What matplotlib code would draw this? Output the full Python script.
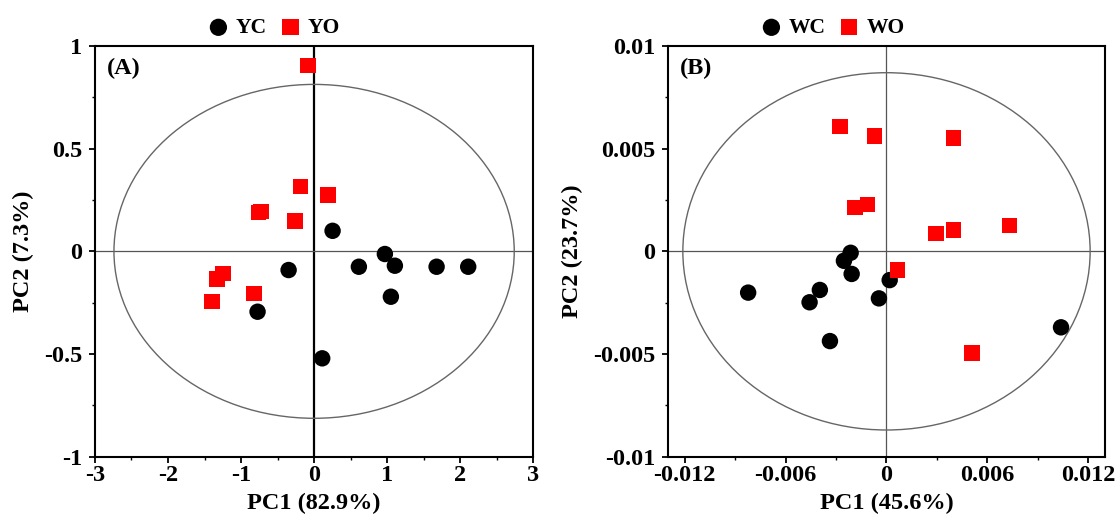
import matplotlib
matplotlib.use("Agg")
import matplotlib.pyplot as plt
from matplotlib.patches import Ellipse
from matplotlib.ticker import MultipleLocator, FuncFormatter

# panel A scores
yc_x = [0.253, 0.969, 1.106, 0.613, 1.677, 2.11, 1.051, -0.349, -0.774, 0.111]
yc_y = [0.100, -0.013, -0.070, -0.075, -0.075, -0.075, -0.221, -0.091, -0.294, -0.521]
yo_x = [-0.081, -0.185, 0.193, -0.76, -0.73, -0.263, -1.244, -1.326, -0.82, -1.395]
yo_y = [0.904, 0.315, 0.274, 0.19, 0.193, 0.149, -0.107, -0.135, -0.205, -0.245]

# panel B scores
wc_x = [-0.00213, -0.00253, -0.00207, 0.00019, -0.00045, -0.00822, -0.00396, -0.00457, -0.00336, 0.01037]
wc_y = [-0.00007, -0.00046, -0.0011, -0.0014, -0.00229, -0.00201, -0.00188, -0.00248, -0.00437, -0.0037]
wo_x = [-0.00277, -0.0007, 0.00398, -0.00188, -0.00114, 0.00293, 0.00398, 0.0073, 0.00065, 0.00507]
wo_y = [0.00607, 0.00561, 0.00553, 0.00214, 0.00227, 0.00088, 0.00104, 0.00125, -0.00091, -0.00494]

plt.rcParams["font.family"] = ["Liberation Serif", "DejaVu Serif"]
plt.rcParams["font.weight"] = "bold"

fig = plt.figure(figsize=(11.16, 5.14), dpi=100)
axA = fig.add_axes([0.0851, 0.1115, 0.3927, 0.799])
axB = fig.add_axes([0.5983, 0.1115, 0.3921, 0.799])

fmt = FuncFormatter(lambda v, p: ("%g" % v).replace("\u2212", "-"))


def setup(ax, xlim, ylim, xmaj, ymaj, xlab, ylab, tag, vline_lw, vline_c):
    ax.set_xlim(*xlim)
    ax.set_ylim(*ylim)
    ax.xaxis.set_major_locator(MultipleLocator(xmaj))
    ax.xaxis.set_minor_locator(MultipleLocator(xmaj / 2))
    ax.yaxis.set_major_locator(MultipleLocator(ymaj))
    ax.yaxis.set_minor_locator(MultipleLocator(ymaj / 2))
    ax.xaxis.set_major_formatter(fmt)
    ax.yaxis.set_major_formatter(fmt)
    for s in ax.spines.values():
        s.set_linewidth(1.5)
    ax.tick_params(which="major", direction="out", length=4, width=1.3,
                   labelsize=17.5)
    ax.tick_params(axis="x", which="major", pad=2)
    ax.tick_params(axis="y", which="major", pad=5)
    ax.tick_params(which="minor", direction="out", length=2.5, width=1.0)
    for lab in ax.get_xticklabels() + ax.get_yticklabels():
        lab.set_fontweight("bold")
    ax.set_xlabel(xlab, fontsize=17.5, fontweight="bold", labelpad=5)
    ax.set_ylabel(ylab, fontsize=17.5, fontweight="bold", labelpad=7)
    ax.axvline(0, color=vline_c, lw=vline_lw, zorder=1)
    ax.axhline(0, color="#555555", lw=0.9, zorder=1)
    ax.text(0.028, 0.97, tag, transform=ax.transAxes, ha="left", va="top",
            fontsize=17.5, fontweight="bold")


setup(axA, (-3, 3), (-1, 1), 1, 0.5, "PC1 (82.9%)", "PC2 (7.3%)", "(A)", 1.6, "black")
setup(axB, (-0.013, 0.013), (-0.01, 0.01), 0.006, 0.005, "PC1 (45.6%)", "PC2 (23.7%)", "(B)", 0.9, "#555555")

axA.add_patch(Ellipse((0, 0), 2 * 2.74, 2 * 0.813, fill=False, ec="#666666", lw=1.0, zorder=1))
axB.add_patch(Ellipse((0, 0), 2 * 0.0121, 2 * 0.0087, fill=False, ec="#666666", lw=1.0, zorder=1))

axA.scatter(yc_x, yc_y, marker="o", s=140, c="black", edgecolors="none", zorder=3, label="YC")
axA.scatter(yo_x, yo_y, marker="s", s=125, c="#ff0000", edgecolors="none", zorder=3, label="YO")
axB.scatter(wc_x, wc_y, marker="o", s=140, c="black", edgecolors="none", zorder=3, label="WC")
axB.scatter(wo_x, wo_y, marker="s", s=125, c="#ff0000", edgecolors="none", zorder=3, label="WO")

for ax, cx in ((axA, 0.408), (axB, 0.377)):
    ax.legend(loc="center", bbox_to_anchor=(cx, 1.044), ncol=2, frameon=False,
              prop={"weight": "bold", "size": 15.5}, handletextpad=0.3,
              columnspacing=0.6, borderaxespad=0, markerscale=1.05,
              handlelength=1.0)

fig.savefig("out.png", dpi=100)
